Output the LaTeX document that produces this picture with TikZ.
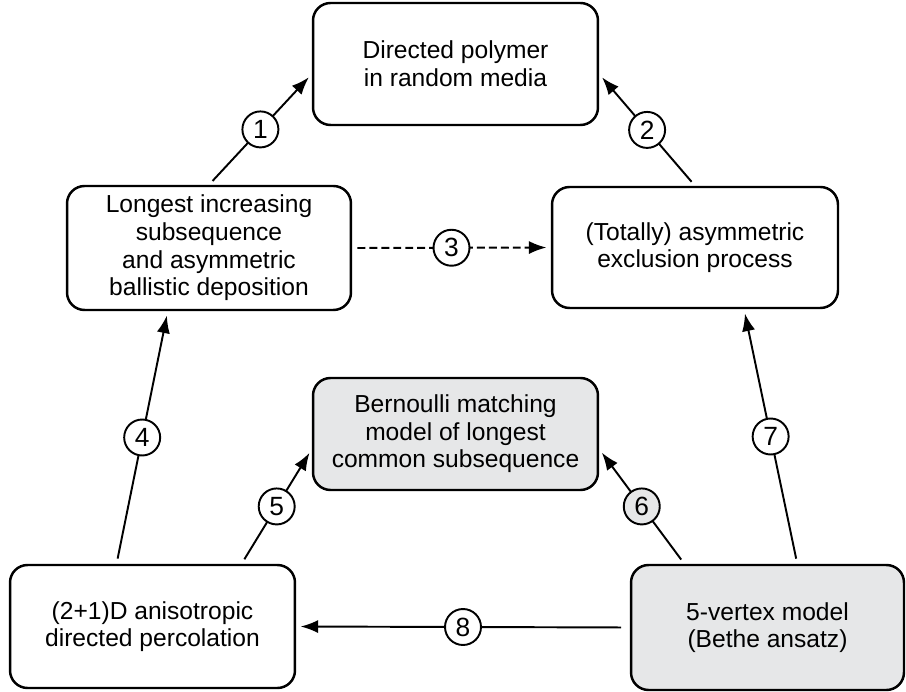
\documentclass[tikz,border=0pt]{standalone}
\usepackage{fontspec}
\setmainfont{Liberation Sans}
\usetikzlibrary{arrows.meta,calc}
\definecolor{lightbox}{RGB}{230,231,232}

\begin{document}
\begin{tikzpicture}[x=0.02cm,y=-0.02cm,
    model/.style={draw,line width=1.4pt,rounded corners=0.35cm,align=center,inner sep=0pt,
                  font=\fontsize{14}{15.7}\selectfont},
    num/.style={draw,solid,circle,line width=1.1pt,fill=white,minimum size=0.72cm,inner sep=0pt,
                font=\fontsize{15}{15}\selectfont},
    link/.style={line width=1.1pt,-{Latex[length=10pt,width=7.5pt]},shorten <=3pt,shorten >=2.5pt}]
                    \useasboundingbox (0,0) rectangle (906,692);
                    % the six models
                    \node[model,minimum width=5.7cm,minimum height=2.44cm] (poly) at (455.5,64) {Directed polymer\\in random media};
                    \node[model,minimum width=5.68cm,minimum height=2.48cm] (lis) at (209,248) {Longest increasing\\subsequence\\and asymmetric\\ballistic deposition};
                    \node[model,minimum width=5.72cm,minimum height=2.42cm] (asep) at (695,247.5) {(Totally) asymmetric\\exclusion process};
                    \node[model,fill=lightbox,minimum width=5.7cm,minimum height=2.24cm] (bern) at (455.5,434) {Bernoulli matching\\model of longest\\common subsequence};
                    \node[model,minimum width=5.7cm,minimum height=2.46cm] (perc) at (152.5,626.5) {(2+1)D anisotropic\\directed percolation};
                    \node[model,fill=lightbox,minimum width=5.46cm,minimum height=2.5cm] (five) at (767.5,627.5) {5-vertex model\\(Bethe ansatz)};
                    % mappings
                    \draw[link] (lis.north) -- (poly.184) node[num,midway] {1};
                    \draw[link] (asep.north) -- (poly.356) node[num,midway] {2};
                    \draw[link,dash pattern=on 4.5pt off 2.3pt] (lis.east) -- (asep.west) node[num,midway] {3};
                    \draw[link] ($(perc.north west)!0.375!(perc.north east)$) -- ($(lis.south west)!0.356!(lis.south east)$) node[num,midway] {4};
                    \draw[link] ($(perc.north west)!0.81!(perc.north east)$) -- (bern.186) node[num,midway] {5};
                    \draw[link] ($(five.north west)!0.198!(five.north east)$) -- (bern.354) node[num,midway,fill=lightbox] {6};
                    \draw[link] ($(five.north west)!0.608!(five.north east)$) -- ($(asep.south west)!0.67!(asep.south east)$) node[num,midway] {7};
                    \draw[link,shorten <=5pt] (five.west) -- (perc.east) node[num,midway] {8};
\end{tikzpicture}
\end{document}
